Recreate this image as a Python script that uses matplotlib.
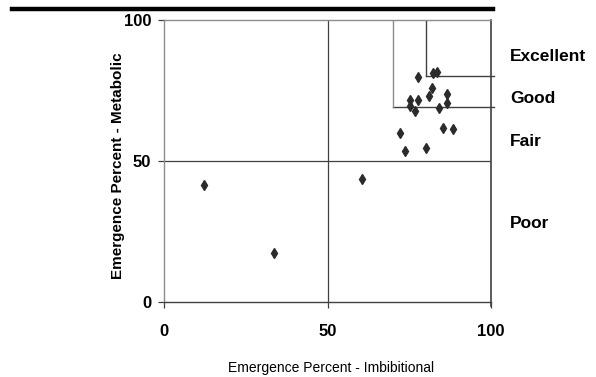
import matplotlib
matplotlib.use("Agg")
import matplotlib.pyplot as plt
from matplotlib.lines import Line2D

# imbibitional (x) vs metabolic (y) emergence percent
imbib = [12.3, 33.6, 60.5, 72.1, 73.7, 80.1, 75.1, 75.3, 76.7, 77.8, 77.8,
         81.0, 81.8, 82.3, 83.4, 84.1, 85.3, 86.6, 86.6, 88.3]
metab = [41.4, 17.3, 43.7, 60.0, 53.5, 54.7, 71.6, 69.5, 67.7, 71.6, 79.8,
         73.2, 75.9, 81.1, 81.6, 68.7, 61.8, 73.9, 70.5, 61.2]
classes = ["Excellent", "Good", "Fair", "Poor"]
class_y = [87, 72, 57, 28]
ticks = [0, 50, 100]

sans = ["Liberation Sans", "DejaVu Sans"]
W, H = 596, 377

fig = plt.figure(figsize=(W / 100, H / 100), dpi=100)
ax = fig.add_axes([0.275, 0.199, 0.549, 0.748])
ax.set_xlim(0, 100); ax.set_ylim(0, 100)

grey = "#8c8c8c"; dark = "#404040"
for sp in ["top", "left", "bottom"]:
    ax.spines[sp].set_color(grey); ax.spines[sp].set_linewidth(1.0)
ax.spines["bottom"].set_color(dark)
ax.spines["right"].set_visible(False)
ax.add_line(Line2D([100, 100], [-1.3, 100], color=dark, lw=1.2, clip_on=False))

# quadrant lines
ax.axhline(50, color=dark, lw=0.9)
ax.axvline(50, color=dark, lw=0.9)
# class boxes
ax.add_line(Line2D([70, 101], [69, 69], color=dark, lw=1.0, clip_on=False))
ax.add_line(Line2D([80, 101], [80, 80], color=dark, lw=1.0, clip_on=False))
ax.plot([70, 70], [69, 100], color=grey, lw=1.0)
ax.plot([80, 80], [80, 100], color=dark, lw=1.0)

ax.plot(imbib, metab, ls="none", marker="d", ms=5.5, color="#2b2b2b", mec="#2b2b2b")

ax.set_xticks(ticks); ax.set_yticks(ticks)
ax.set_xticklabels([str(t) for t in ticks], fontweight="bold", fontsize=12, family=sans)
ax.set_yticklabels([str(t) for t in ticks], fontweight="bold", fontsize=12, family=sans)
ax.tick_params(axis="both", direction="out", length=4, color=dark, width=0.9)
ax.tick_params(axis="x", pad=12)
ax.tick_params(axis="y", pad=5)

fig.text(331 / W, 1 - 368 / H, "Emergence Percent - Imbibitional", fontsize=10,
         family=sans, ha="center", va="center")
fig.text(118 / W, 1 - 166 / H, "Emergence Percent - Metabolic", fontsize=11,
         family=sans, fontweight="bold", rotation=90, ha="center", va="center")

for lab, yy in zip(classes, class_y):
    ax.text(1.057, yy / 100, lab, transform=ax.transAxes, ha="left", va="center",
            fontsize=12.5, fontweight="bold", family=sans)

# thick rule across the top
fig.add_artist(Line2D([12 / W, 493 / W], [1 - 9 / H, 1 - 9 / H],
                      color="black", lw=3.2, transform=fig.transFigure))

fig.savefig("out.png", dpi=100)
